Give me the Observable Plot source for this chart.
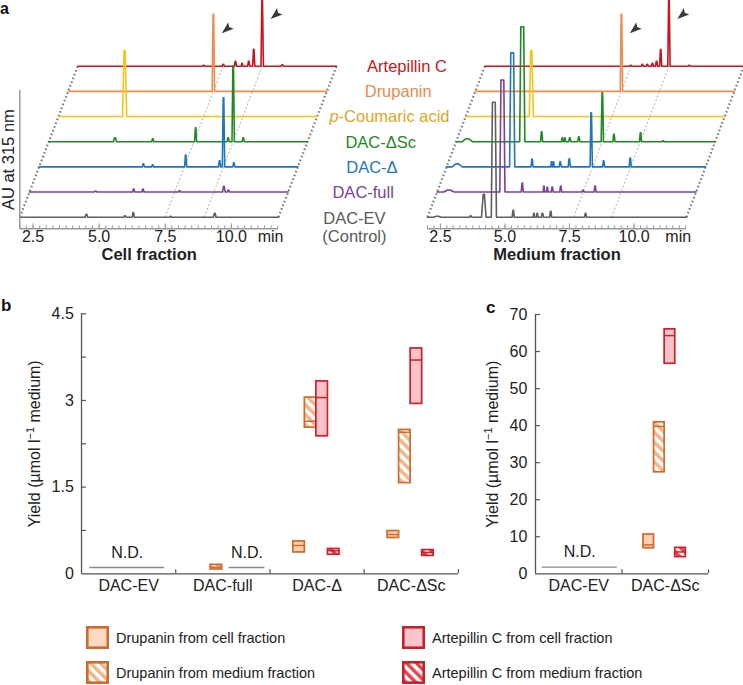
<!DOCTYPE html>
<html>
<head>
<meta charset="utf-8">
<script src="https://cdn.jsdelivr.net/npm/d3@7"></script>
<script src="https://cdn.jsdelivr.net/npm/@observablehq/plot@0.6"></script>
<style>
html,body{margin:0;padding:0;background:#fff;}
body{font-family:"Liberation Sans",Arial,Helvetica,sans-serif;color:#222;}
#fig{position:relative;width:743px;height:685px;overflow:hidden;background:#fff;}
.panel{position:absolute;}
.letter{position:absolute;font-weight:bold;font-size:17px;line-height:13px;color:#111;}
.leg{position:absolute;display:flex;align-items:center;font-size:14.5px;color:#222;white-space:nowrap;}
.leg svg{display:block;flex:none;}
.leg span{margin-left:7px;}
</style>
</head>
<body>
<svg width="0" height="0" style="position:absolute">
  <defs>
    <pattern id="hatchDrup" patternUnits="userSpaceOnUse" width="7" height="7" patternTransform="rotate(-45)">
      <rect width="7" height="7" fill="#ffffff"/>
      <rect width="3.5" height="7" fill="#f4b487"/>
    </pattern>
    <pattern id="hatchArt" patternUnits="userSpaceOnUse" width="7" height="7" patternTransform="rotate(-45)">
      <rect width="7" height="7" fill="#ffffff"/>
      <rect width="3.5" height="7" fill="#e8434d"/>
    </pattern>
  </defs>
</svg>
<div id="fig">
  <div class="letter" style="left:0px;top:0px;font-size:16px;line-height:18px">a</div>
  <div class="letter" style="left:1px;top:299px">b</div>
  <div class="letter" style="left:486px;top:300.5px">c</div>
  <div class="leg" style="left:86px;top:626px"><svg width="23" height="23"><rect x="1.3" y="1.3" width="20.4" height="20.4" fill="#fbd9c2" stroke="#d06a28" stroke-width="2.6"/></svg><span>Drupanin from cell fraction</span></div>
  <div class="leg" style="left:86px;top:661px"><svg width="23" height="23"><rect x="1.3" y="1.3" width="20.4" height="20.4" fill="url(#hatchDrup)" stroke="#d06a28" stroke-width="2.6"/></svg><span>Drupanin from medium fraction</span></div>
  <div class="leg" style="left:402px;top:626px"><svg width="23" height="23"><rect x="1.3" y="1.3" width="20.4" height="20.4" fill="#f9c6cb" stroke="#cc1f2c" stroke-width="2.6"/></svg><span>Artepillin C from cell fraction</span></div>
  <div class="leg" style="left:402px;top:661px"><svg width="23" height="23"><rect x="1.3" y="1.3" width="20.4" height="20.4" fill="url(#hatchArt)" stroke="#cc1f2c" stroke-width="2.6"/></svg><span>Artepillin C from medium fraction</span></div>
</div>
<script>
// ================= DATA =================
// Panel a: HPLC traces (bottom to top)
const traceNames = ["DAC-EV\n(Control)", "DAC-full", "DAC-Δ", "DAC-ΔSc", "p-Coumaric acid", "Drupanin", "Artepillin C"];
const traceColors = ["#5e5e5e", "#7b3f9e", "#1f74c4", "#1e8a22", "#fdc114", "#f28a4b", "#c9141c"];
const labelColors = ["#5a5a5a", "#7b3f9e", "#1f74c4", "#1e8a22", "#dfa526", "#f0884a", "#c9141c"];
// peaks: [retention time (min), height (AU), half-width (min), top half-width (min, optional)]
const cellEV      = [[4.52, 3, 0.05], [5.97, 1.5, 0.04], [6.29, 4.7, 0.04], [7.70, 1, 0.04], [9.37, 4, 0.05]];
const cellFull    = [[4.50, 1, 0.05], [5.94, 3, 0.04], [6.29, 3, 0.04], [7.67, 1.5, 0.04], [9.35, 5.7, 0.05], [9.52, 2, 0.04]];
const cellDelta   = [[5.94, 3, 0.04], [6.29, 2, 0.04], [7.54, 11.7, 0.04], [8.82, 6, 0.04], [8.97, 69, 0.045], [9.36, 4, 0.04]];
const cellDeltaSc = [[4.50, 4, 0.06], [5.93, 3, 0.04], [7.55, 14, 0.04], [8.78, 4, 0.04], [8.97, 76, 0.045], [9.35, 4, 0.04]];
const cellPCA     = [[4.50, 66, 0.08, 0.02]];
const cellDrup    = [[7.49, 77, 0.045]];
const cellArt     = [[6.76, 1, 0.04], [7.50, 2, 0.04], [7.96, 5, 0.04], [8.21, 3, 0.03], [8.46, 5, 0.04], [8.65, 17, 0.04], [8.97, 66, 0.045], [9.73, 1.5, 0.04]];

const medEV      = [[2.38, 1, 0.15], [3.67, 1.5, 0.05], [4.18, 23, 0.09], [4.57, 115, 0.1, 0.055], [5.32, 7, 0.04], [6.12, 4, 0.03], [6.25, 4, 0.03], [6.45, 4, 0.04], [6.77, 6, 0.04], [8.12, 4, 0.04]];
const medFull    = [[2.46, 2, 0.2], [4.53, 112, 0.1, 0.055], [5.30, 9, 0.04], [6.14, 6, 0.03], [6.27, 5, 0.03], [6.46, 5, 0.04], [6.79, 6, 0.04], [7.65, 2, 0.04], [8.12, 6, 0.04]];
const medDelta   = [[2.41, 3, 0.2], [4.54, 114, 0.1, 0.055], [5.31, 7.7, 0.04], [6.06, 5, 0.025], [6.14, 5, 0.025], [6.40, 5, 0.04], [6.75, 8, 0.04], [7.60, 54, 0.045], [8.08, 6, 0.04], [9.11, 8.7, 0.04]];
const medDeltaSc = [[2.43, 3, 0.2], [4.56, 115, 0.1, 0.055], [5.31, 10, 0.04], [6.11, 4, 0.03], [6.21, 4, 0.03], [6.40, 4, 0.04], [6.75, 5, 0.04], [7.66, 49, 0.045], [8.11, 7.4, 0.04], [9.14, 9, 0.04], [10.02, 1, 0.04]];
const medPCA     = [[4.54, 66, 0.08, 0.02]];
const medDrup    = [[7.66, 77, 0.045]];
const medArt     = [[7.65, 1, 0.04], [8.10, 2, 0.04], [8.29, 2, 0.04], [8.49, 3, 0.04], [8.65, 5, 0.04], [8.81, 16.7, 0.04], [9.13, 66, 0.045], [9.91, 1, 0.04]];

const cellPeaks = [cellEV, cellFull, cellDelta, cellDeltaSc, cellPCA, cellDrup, cellArt];
const medPeaks  = [medEV, medFull, medDelta, medDeltaSc, medPCA, medDrup, medArt];
const timeTicks = [2.5, 5, 7.5, 10];

// Panel b: yields (µmol l−1 medium), per strain [EV, full, Δ, ΔSc]; boxes lo / mid / hi
const strainsB = ["DAC-EV", "DAC-full", "DAC-Δ", "DAC-ΔSc"];
const drupCellLoB = [null, null, 0.37, 0.62], drupCellMidB = [null, null, 0.49, 0.68], drupCellHiB = [null, null, 0.56, 0.74];
const drupMedLoB  = [null, 0.075, 2.53, 1.57], drupMedMidB = [null, 0.115, 2.64, 2.45], drupMedHiB = [null, 0.155, 3.05, 2.49];
const artCellLoB  = [null, null, 2.38, 2.94], artCellMidB = [null, null, 3.05, 3.70], artCellHiB = [null, null, 3.33, 3.90];
const artMedLoB   = [null, null, 0.33, 0.31], artMedMidB = [null, null, 0.40, 0.37], artMedHiB = [null, null, 0.43, 0.41];
const yTicksB = [0, 1.5, 3, 4.5];

// Panel c
const strainsC = ["DAC-EV", "DAC-ΔSc"];
const drupCellLoC = [null, 6.9],  drupCellMidC = [null, 7.8],  drupCellHiC = [null, 10.6];
const drupMedLoC  = [null, 27.4], drupMedMidC  = [null, 39.8], drupMedHiC  = [null, 40.9];
const artCellLoC  = [null, 56.7], artCellMidC  = [null, 64.3], artCellHiC  = [null, 66.0];
const artMedLoC   = [null, 4.5],  artMedMidC   = [null, 5.9],  artMedHiC   = [null, 7.0];
const yTicksC = [0, 10, 20, 30, 40, 50, 60, 70];

// ================= LAYOUT / STYLE =================
const FONT = "'Liberation Sans', Arial, Helvetica, sans-serif";
const SKEW_Y = 25.17;
const seriesStyle = [
  {fill: "#fbd0b3", stroke: "#d06a28"},
  {fill: "url(#hatchDrup)", stroke: "#d06a28"},
  {fill: "#f8c3c8", stroke: "#cf1f2d"},
  {fill: "url(#hatchArt)", stroke: "#cf1f2d"}
];
const SLOT0 = 0.248, SLOT = 0.1225;

const fig = document.getElementById("fig");
function place(el, left, top, w) {
  const d = document.createElement("div");
  d.className = "panel";
  d.style.left = left + "px"; d.style.top = top + "px"; d.style.width = w + "px";
  d.appendChild(el); fig.appendChild(d);
}
const NS = "http://www.w3.org/2000/svg";
function tspan(txt, attrs = {}) {
  const t = document.createElementNS(NS, "tspan");
  for (const k in attrs) t.setAttribute(k, attrs[k]);
  t.textContent = txt; return t;
}

// ---------------- Panel a ----------------
function traceRows(pk, i, tEnd, skewT) {
  const pts = [[2, 0]];
  [...pk].sort((a, b) => a[0] - b[0]).forEach(([t, h, w, tw]) => {
    const top = tw ?? w * 0.25;
    pts.push([t - w, 0], [t - top, h], [t + top, h], [t + w, 0]);
  });
  pts.push([tEnd, 0]);
  return pts.map(([t, v]) => ({x: t + i * skewT, y: v + i * SKEW_Y}));
}
const arrowSymbol = {
  draw(ctx, size) {
    const k = Math.sqrt(size) / 7.09;
    ctx.moveTo(0, -6 * k); ctx.lineTo(4.2 * k, 6 * k); ctx.lineTo(0, 3.6 * k); ctx.lineTo(-4.2 * k, 6 * k); ctx.closePath();
  }
};
const AXIS_BOTTOM = -11.6, AXIS_TOP = 126.7;

function chromatogram({peaks, tEnd, skewT, width, marginLeft, marginRight, yAxis, title, minT, labels}) {
  const n = peaks.length - 1;
  const main = p => p.reduce((a, b) => (b[1] > a[1] ? b : a));
  const std = [main(peaks[5]), main(peaks[6])];
  const marks = [];
  marks.push(Plot.link([2, tEnd], {x1: d => d, y1: 0, x2: d => d + n * skewT, y2: n * SKEW_Y,
    stroke: "#7c7c7c", strokeWidth: 2.2, strokeDasharray: "1.6,2.4"}));
  marks.push(Plot.link(std, {x1: d => d[0], y1: 0, x2: d => d[0] + n * skewT, y2: n * SKEW_Y,
    stroke: "#b0b0b0", strokeWidth: 1, strokeDasharray: "2,2"}));
  for (let i = n; i >= 0; i--) {
    marks.push(Plot.line(traceRows(peaks[i], i, tEnd, skewT), {x: "x", y: "y", stroke: traceColors[i], strokeWidth: 1.6, strokeLinejoin: "round"}));
  }
  marks.push(Plot.dot(std.map((p, k) => ({x: p[0] + (5 + k) * skewT, y: p[1] + (5 + k) * SKEW_Y})),
    {x: "x", y: "y", symbol: arrowSymbol, r: 4, fill: "#3a3a3a", stroke: "none", rotate: -130, dx: 13, dy: 15}));
  if (yAxis) {
    marks.push(Plot.ruleX([2], {y1: AXIS_BOTTOM, y2: AXIS_TOP, stroke: "#9a9a9a", strokeWidth: 1.5}));
    marks.push(Plot.text(["AU at 315 nm"], {x: 2, y: (AXIS_BOTTOM + AXIS_TOP) / 2, rotate: -90, dx: -11.3, fontSize: 16.5, textAnchor: "middle"}));
  }
  marks.push(Plot.ruleY([AXIS_BOTTOM], {x1: 2, x2: tEnd, stroke: "#9a9a9a", strokeWidth: 1.5}));
  marks.push(Plot.tickX(d3.range(2, tEnd + 1e-9, 0.25), {x: d => d, insetTop: 225.3, stroke: "#9a9a9a", strokeWidth: 1}));
  marks.push(Plot.tickX(timeTicks, {x: d => d, insetTop: 223.3, stroke: "#9a9a9a", strokeWidth: 1}));
  marks.push(Plot.axisX({ticks: timeTicks, tickFormat: d3.format(".1f"), tickSize: 0, tickPadding: 2, label: null, fontSize: 16}));
  marks.push(Plot.text([minT], {x: d => d, text: () => "min", frameAnchor: "bottom", lineAnchor: "top", dy: 2, fontSize: 16}));
  marks.push(Plot.text([title], {frameAnchor: "bottom", dy: 31.5, fontWeight: "bold", fontSize: 16.5}));
  if (labels) {
    traceNames.forEach((name, i) => {
      const multi = name.includes("\n");
      marks.push(Plot.text([name], {x: labels.t0 + i * labels.step, y: i * SKEW_Y, text: d => d, fill: labelColors[i], fontSize: 16.5,
        lineAnchor: multi ? "top" : "middle", lineHeight: 1.12, dy: multi ? -6.4 : 0}));
    });
  }
  const svg = Plot.plot({
    width, height: 270, marginLeft, marginRight, marginTop: 0, marginBottom: 41.7,
    x: {domain: [2, tEnd], label: null},
    y: {domain: [AXIS_BOTTOM, 216.7], axis: null, label: null},
    style: {background: "transparent", overflow: "visible", fontFamily: FONT, fontSize: "16px", color: "#222"},
    marks
  });
  svg.querySelectorAll("text").forEach(t => {
    if (t.textContent === "p-Coumaric acid") {
      t.textContent = "";
      t.append(tspan("p", {"font-style": "italic"}), tspan("-Coumaric acid"));
    }
  });
  return svg;
}

place(chromatogram({peaks: cellPeaks, tEnd: 11.78, skewT: 0.3656, width: 380, marginLeft: 19.3, marginRight: 102,
  yAxis: true, title: "Cell fraction", minT: 11.48, labels: {t0: 14.65, step: 0.331}}), 0, 0, 380);
place(chromatogram({peaks: medPeaks, tEnd: 12.03, skewT: 0.370, width: 363, marginLeft: 47, marginRight: 57,
  yAxis: false, title: "Medium fraction", minT: 11.71, labels: null}), 380, 0, 363);

// ---------------- Panels b, c ----------------
const YLABEL = "Yield (µmol l-1 medium)";
function boxRows(lo, mid, hi, k) {
  return lo.map((l, j) => l == null ? null : {
    x1: j - 0.5 + SLOT0 + k * SLOT, x2: j - 0.5 + SLOT0 + (k + 1) * SLOT, y1: l, y2: hi[j], mid: mid[j]
  }).filter(Boolean);
}
function yieldPanel({strains, series, yDomain, yTicks, minorTicks, width, marginLeft, marginRight, marginTop,
                     tickPadding, labelDx, nd, ndLevel}) {
  const innerW = width - marginLeft - marginRight;
  const innerH = 330 - marginTop - 46.7;
  const marks = [];
  series.forEach(([lo, mid, hi], k) => {
    const rows = boxRows(lo, mid, hi, k);
    marks.push(Plot.rect(rows, {x1: "x1", x2: "x2", y1: "y1", y2: "y2", fill: seriesStyle[k].fill,
      stroke: seriesStyle[k].stroke, strokeWidth: 1.7}));
    marks.push(Plot.ruleY(rows, {y: "mid", x1: "x1", x2: "x2", stroke: seriesStyle[k].stroke, strokeWidth: 1.5}));
  });
  marks.push(Plot.ruleY(nd, {y: ndLevel, x1: d => d.j + d.from, x2: d => d.j + d.to, stroke: "#8a8a8a", strokeWidth: 1.4}));
  marks.push(Plot.text(nd, {x: d => d.j + (d.from + d.to) / 2, y: ndLevel, text: () => "N.D.", dy: -15, fontSize: 16}));
  marks.push(Plot.ruleX([-0.5], {stroke: "#555", strokeWidth: 1.3}));
  marks.push(Plot.ruleY([yDomain[0]], {stroke: "#555", strokeWidth: 1.3}));
  marks.push(Plot.tickY(minorTicks, {y: d => d, insetRight: innerW - 5, stroke: "#555", strokeWidth: 1.2}));
  marks.push(Plot.tickX(strains.map((s, j) => j + 0.5), {x: d => d, insetTop: innerH - 4, stroke: "#555", strokeWidth: 1.2}));
  marks.push(Plot.axisY({ticks: yTicks, tickSize: 0, tickPadding, tickFormat: d => String(d), label: null, fontSize: 16}));
  marks.push(Plot.axisX({ticks: strains.map((s, j) => j), tickFormat: j => strains[j], tickSize: 0, tickPadding: 6, label: null, fontSize: 16}));
  marks.push(Plot.text([YLABEL], {frameAnchor: "left", textAnchor: "middle", rotate: -90, dx: labelDx, fontSize: 16}));
  const svg = Plot.plot({
    width, height: 330, marginLeft, marginRight, marginTop, marginBottom: 46.7,
    x: {domain: [-0.5, strains.length - 0.5], label: null},
    y: {domain: yDomain, label: null},
    style: {background: "transparent", overflow: "visible", fontFamily: FONT, fontSize: "16px", color: "#222"},
    marks
  });
  svg.querySelectorAll("text").forEach(t => {
    if (t.textContent === YLABEL) {
      t.textContent = "";
      t.append(tspan("Yield (µmol l"), tspan("−1", {"baseline-shift": "super", "font-size": "11px"}), tspan(" medium)"));
    }
  });
  return svg;
}

place(yieldPanel({
  strains: strainsB,
  series: [[drupCellLoB, drupCellMidB, drupCellHiB], [drupMedLoB, drupMedMidB, drupMedHiB],
           [artCellLoB, artCellMidB, artCellHiB], [artMedLoB, artMedMidB, artMedHiB]],
  yDomain: [0, 4.5], yTicks: yTicksB, minorTicks: [0.75, 1.5, 2.25, 3, 3.75, 4.5],
  width: 470, marginLeft: 81, marginRight: 12.1, marginTop: 23.3, tickPadding: 7.7, labelDx: -46.5,
  nd: [{j: 0, from: -0.412, to: 0.381}, {j: 1, from: 0.067, to: 0.446}], ndLevel: 0.11
}), 0, 290, 470);

place(yieldPanel({
  strains: strainsC,
  series: [[drupCellLoC, drupCellMidC, drupCellHiC], [drupMedLoC, drupMedMidC, drupMedHiC],
           [artCellLoC, artCellMidC, artCellHiC], [artMedLoC, artMedMidC, artMedHiC]],
  yDomain: [0, 70], yTicks: yTicksC, minorTicks: [10, 20, 30, 40, 50, 60, 70],
  width: 273, marginLeft: 65, marginRight: 35, marginTop: 24, tickPadding: 8.2, labelDx: -43,
  nd: [{j: 0, from: -0.423, to: 0.445}], ndLevel: 1.8
}), 470, 290, 273);
</script>
</body>
</html>
